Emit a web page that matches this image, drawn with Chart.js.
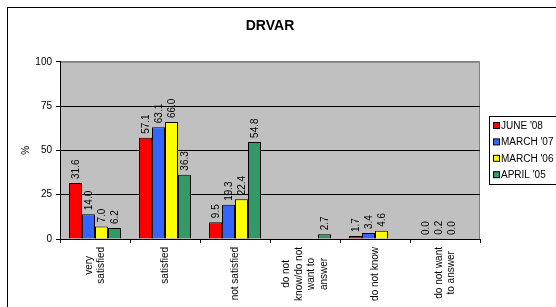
<!DOCTYPE html>
<html>
<head>
<meta charset="utf-8">
<script src="https://cdn.jsdelivr.net/npm/chart.js@4"></script>
<style>
    html, body { margin: 0; padding: 0; overflow: hidden; background: #fff; }
    #frame { position: absolute; left: 7px; top: 7px; width: 620px; height: 400px; border: 1px solid #000; }
    #chart { position: absolute; left: 0; top: 0; }
</style>
</head>
<body>
<div id="frame"></div>
<canvas id="chart" width="600" height="320"></canvas>
<script>
const categories = [
    ["very", "satisfied"],
    ["satisfied"],
    ["not satisfied"],
    ["do not", "know/do not", "want to", "answer"],
    ["do not know"],
    ["do not want", "to answer"]
];
const seriesNames = ["JUNE '08", "MARCH '07", "MARCH '06", "APRIL '05"];
const june08 = [31.6, 57.1, 9.5, null, 1.7, 0.0];
const march07 = [14.0, 63.1, 19.3, null, 3.4, 0.2];
const march06 = [7.0, 66.0, 22.4, null, 4.6, 0.0];
const april05 = [6.2, 36.3, 54.8, 2.7, null, null];
const yTicks = [0, 25, 50, 75, 100];

const colors = ["#ff0000", "#3366ff", "#ffff00", "#339966"];
const FONT = "'Liberation Sans', Arial, sans-serif";

Chart.defaults.font.family = FONT;
Chart.defaults.font.size = 10;
Chart.defaults.color = "#000";

const plotBackground = {
    id: "plotBackground",
    beforeDraw(chart) {
        const { ctx, chartArea: a } = chart;
        ctx.save();
        ctx.fillStyle = "#c0c0c0";
        ctx.fillRect(a.left, a.top, a.right - a.left, a.bottom - a.top);
        ctx.strokeStyle = "#808080";
        ctx.lineWidth = 1;
        ctx.beginPath();
        ctx.moveTo(a.left, a.top + 0.5);
        ctx.lineTo(a.right - 0.5, a.top + 0.5);
        ctx.lineTo(a.right - 0.5, a.bottom);
        ctx.stroke();
        ctx.restore();
    }
};

const valueLabels = {
    id: "valueLabels",
    afterDatasetsDraw(chart) {
        const { ctx } = chart;
        ctx.save();
        ctx.font = `10px ${FONT}`;
        ctx.fillStyle = "#000";
        ctx.textAlign = "left";
        ctx.textBaseline = "middle";
        chart.data.datasets.forEach((ds, di) => {
            const meta = chart.getDatasetMeta(di);
            meta.data.forEach((bar, i) => {
                const v = ds.data[i];
                if (v === null) return;
                ctx.save();
                ctx.translate(bar.x + 1, bar.y - 4);
                ctx.rotate(-Math.PI / 2);
                ctx.fillText(v.toFixed(1), 0, 0);
                ctx.restore();
            });
        });
        ctx.restore();
    }
};

const categoryLabels = {
    id: "categoryLabels",
    afterDraw(chart) {
        const { ctx } = chart;
        const xScale = chart.scales.x;
        const lineH = 12.5;
        ctx.save();
        ctx.font = `10px ${FONT}`;
        ctx.fillStyle = "#000";
        ctx.textAlign = "center";
        ctx.textBaseline = "middle";
        categories.forEach((lines, i) => {
            const x = xScale.getPixelForValue(i);
            const maxW = Math.max(...lines.map((l) => ctx.measureText(l).width));
            ctx.save();
            ctx.translate(x, xScale.top + 8 + maxW / 2);
            ctx.rotate(-Math.PI / 2);
            lines.forEach((line, li) => {
                ctx.fillText(line, 0, (li - (lines.length - 1) / 2) * lineH);
            });
            ctx.restore();
        });
        ctx.restore();
    }
};

const boxLegend = {
    id: "boxLegend",
    afterDraw(chart) {
        const { ctx, chartArea: a } = chart;
        const left = a.right + 9;
        const top = 116;
        ctx.save();
        ctx.fillStyle = "#fff";
        ctx.fillRect(left, top, 120, 68);
        ctx.strokeStyle = "#000";
        ctx.lineWidth = 1;
        ctx.strokeRect(left + 0.5, top + 0.5, 120, 68);
        ctx.font = `10px ${FONT}`;
        ctx.textAlign = "left";
        ctx.textBaseline = "middle";
        chart.data.datasets.forEach((ds, i) => {
            const y = top + 10 + i * 16.4;
            ctx.fillStyle = ds.backgroundColor;
            ctx.fillRect(left + 4.5, y - 3.5, 6, 6);
            ctx.strokeRect(left + 4.5, y - 3.5, 6, 6);
            ctx.fillStyle = "#000";
            ctx.fillText(ds.label, left + 12, y);
        });
        ctx.restore();
    }
};

const seriesValues = [june08, march07, march06, april05];

new Chart(document.getElementById("chart"), {
    type: "bar",
    data: {
        labels: categories.map((c) => c.join(" ")),
        datasets: seriesNames.map((name, i) => ({
            label: name,
            data: seriesValues[i],
            backgroundColor: colors[i],
            borderColor: "#000",
            borderWidth: 1,
            categoryPercentage: 0.743,
            barPercentage: 1
        }))
    },
    options: {
        responsive: false,
        animation: false,
        devicePixelRatio: 1,
        layout: {
            padding: { left: 20, right: 120, top: 0, bottom: 0 }
        },
        plugins: {
            legend: { display: false },
            tooltip: { enabled: false },
            title: {
                display: true,
                fullSize: false,
                text: "DRVAR",
                font: { size: 14, weight: "bold", family: FONT },
                color: "#000",
                padding: { top: 18, bottom: 27 }
            }
        },
        scales: {
            x: {
                afterFit: (scale) => { scale.height = 81; },
                ticks: { display: false },
                grid: {
                    offset: true,
                    drawOnChartArea: false,
                    drawTicks: true,
                    tickLength: 4,
                    tickColor: "#000",
                    color: "#000"
                },
                border: { display: true, color: "#000", width: 1 }
            },
            y: {
                min: 0,
                max: 100,
                afterFit: (scale) => { scale.width = 40; },
                afterBuildTicks: (scale) => {
                    scale.ticks = yTicks.map((v) => ({ value: v }));
                },
                ticks: { padding: 4, font: { size: 10 } },
                grid: {
                    color: (c) => (c.tick && c.tick.value === 100 ? "#808080" : "#000"),
                    tickColor: "#000",
                    tickLength: 4
                },
                border: { display: true, color: "#000", width: 1 },
                title: {
                    display: true,
                    text: "%",
                    font: { size: 10 },
                    padding: { top: 0, bottom: 0 }
                }
            }
        }
    },
    plugins: [plotBackground, valueLabels, categoryLabels, boxLegend]
});
</script>
</body>
</html>
